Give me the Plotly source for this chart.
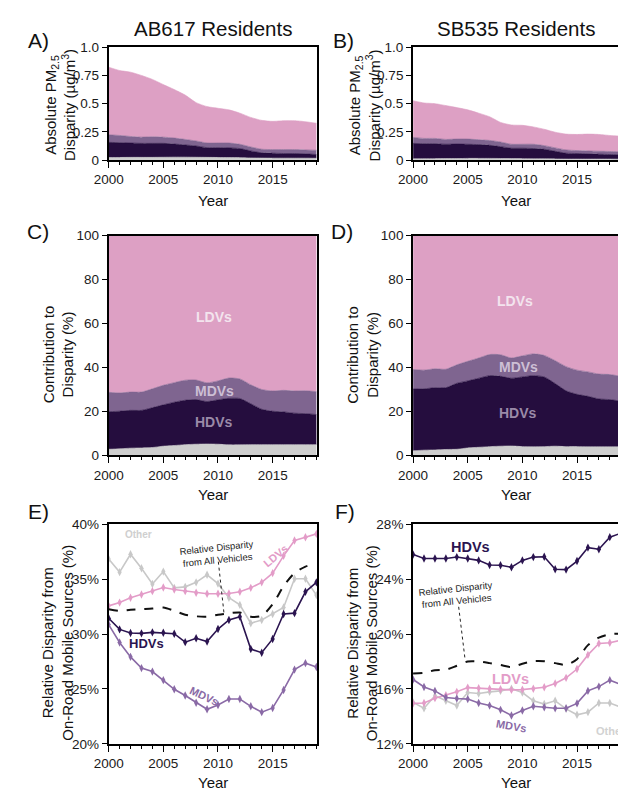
import plotly.graph_objects as go

W, H = 618, 799
FONT = "Liberation Sans, Arial, Helvetica, sans-serif"

years = list(range(2000, 2020))

# ---- Absolute PM2.5 disparity (ug/m3), AB617 residents ----
ab_other = [0.023, 0.023, 0.024, 0.024, 0.024, 0.025, 0.026, 0.026, 0.025, 0.024,
            0.023, 0.022, 0.021, 0.019, 0.018, 0.017, 0.017, 0.017, 0.017, 0.016]
ab_hdv = [0.134, 0.131, 0.127, 0.124, 0.124, 0.123, 0.116, 0.108, 0.100, 0.086,
          0.087, 0.086, 0.081, 0.062, 0.046, 0.044, 0.041, 0.041, 0.038, 0.033]
ab_mdv = [0.067, 0.064, 0.058, 0.055, 0.058, 0.055, 0.053, 0.049, 0.044, 0.041,
          0.041, 0.043, 0.038, 0.035, 0.032, 0.032, 0.035, 0.035, 0.035, 0.038]
ab_ldv = [0.599, 0.576, 0.570, 0.547, 0.509, 0.466, 0.430, 0.393, 0.340, 0.323,
          0.308, 0.294, 0.276, 0.262, 0.256, 0.250, 0.256, 0.256, 0.250, 0.239]

# ---- Absolute PM2.5 disparity (ug/m3), SB535 residents ----
sb_other = [0.011, 0.012, 0.012, 0.013, 0.013, 0.015, 0.015, 0.015, 0.014, 0.013,
            0.012, 0.011, 0.011, 0.010, 0.009, 0.009, 0.009, 0.009, 0.009, 0.008]
sb_hdv = [0.137, 0.133, 0.133, 0.127, 0.129, 0.125, 0.122, 0.116, 0.105, 0.092,
          0.093, 0.091, 0.085, 0.068, 0.052, 0.049, 0.046, 0.043, 0.040, 0.039]
sb_mdv = [0.053, 0.047, 0.047, 0.043, 0.044, 0.046, 0.043, 0.043, 0.041, 0.035,
          0.035, 0.038, 0.032, 0.030, 0.029, 0.026, 0.026, 0.026, 0.027, 0.026]
sb_ldv = [0.325, 0.314, 0.308, 0.300, 0.279, 0.259, 0.236, 0.210, 0.174, 0.171,
          0.168, 0.154, 0.145, 0.139, 0.140, 0.143, 0.149, 0.149, 0.142, 0.139]

# ---- Contribution to disparity (%), AB617 ----
abp_other = [2.8, 3.0, 3.3, 3.4, 3.6, 4.2, 4.5, 4.9, 5.1, 5.2,
             5.1, 4.8, 4.8, 4.9, 4.9, 4.9, 4.9, 4.9, 4.9, 4.9]
abp_hdv = [17.1, 17.1, 17.2, 17.1, 18.1, 18.8, 19.7, 20.2, 20.3, 19.3,
           20.2, 21.2, 21.1, 18.6, 16.1, 15.2, 14.9, 14.3, 14.1, 13.7]
abp_mdv = [8.8, 8.3, 8.3, 8.3, 8.6, 8.9, 8.9, 9.1, 8.9, 8.5,
           8.6, 9.2, 8.9, 8.6, 9.0, 9.2, 9.8, 10.1, 10.4, 10.4]
abp_ldv = [71.3, 71.6, 71.2, 71.2, 69.7, 68.1, 66.9, 65.8, 65.7, 67.0,
           66.1, 64.8, 65.2, 67.9, 70.0, 70.7, 70.4, 70.7, 70.6, 71.0]

# ---- Contribution to disparity (%), SB535 ----
sbp_other = [2.1, 2.4, 2.5, 2.7, 2.8, 3.4, 3.7, 4.0, 4.2, 4.3,
             4.0, 3.9, 4.0, 4.2, 4.0, 4.0, 3.9, 3.9, 3.9, 3.9]
sbp_hdv = [28.1, 27.9, 28.3, 28.1, 30.0, 30.5, 31.4, 32.3, 31.8, 30.8,
           31.7, 32.4, 31.7, 28.5, 25.4, 23.8, 23.0, 21.8, 21.5, 20.8]
sbp_mdv = [8.9, 8.5, 8.6, 8.4, 8.4, 8.9, 9.2, 9.6, 9.8, 9.2,
           9.6, 9.9, 9.8, 10.4, 11.0, 11.0, 11.1, 11.3, 11.4, 11.3]
sbp_ldv = [60.9, 61.2, 60.6, 60.8, 58.8, 57.2, 55.7, 54.1, 54.2, 55.7,
           54.7, 53.8, 54.5, 56.9, 59.6, 61.2, 62.0, 63.0, 63.2, 64.0]

# ---- Relative disparity from on-road mobile sources (%), AB617 ----
abr_ldv = [32.56, 32.86, 33.30, 33.60, 33.90, 34.23, 34.05, 33.90, 33.75, 33.66,
           33.66, 33.69, 33.84, 34.20, 34.70, 35.54, 37.11, 38.51, 38.81, 39.11]
abr_hdv = [31.43, 30.42, 30.09, 30.06, 30.15, 30.12, 30.03, 29.26, 29.61, 29.32,
           30.45, 31.28, 31.58, 28.63, 28.30, 29.55, 31.82, 31.90, 33.84, 34.70]
abr_mdv = [30.86, 29.23, 27.92, 26.90, 26.58, 25.80, 24.97, 24.40, 23.75, 23.15,
           23.54, 24.08, 24.08, 23.42, 22.89, 23.27, 24.91, 26.76, 27.35, 27.00]
abr_other = [36.82, 35.63, 37.26, 35.98, 34.55, 35.68, 34.20, 34.29, 34.70, 35.39,
             34.58, 33.30, 32.65, 30.98, 31.28, 31.82, 32.41, 35.03, 35.03, 33.54]
abr_all = [32.26, 32.11, 32.20, 32.26, 32.32, 32.41, 32.11, 31.76, 31.61, 31.58,
           31.76, 31.88, 31.96, 31.58, 31.67, 32.71, 34.35, 35.54, 36.13, 36.43]

# ---- Relative disparity from on-road mobile sources (%), SB535 ----
sbr_hdv = [25.79, 25.50, 25.50, 25.50, 25.60, 25.50, 25.36, 25.02, 25.00, 24.86,
           25.36, 25.60, 25.62, 24.71, 24.69, 25.31, 26.29, 26.17, 27.05, 27.33]
sbr_all = [17.12, 17.17, 17.36, 17.40, 17.69, 18.00, 18.00, 17.88, 17.74, 17.60,
           17.83, 18.02, 18.02, 17.88, 17.76, 18.17, 19.19, 19.74, 19.98, 20.02]
sbr_ldv = [14.95, 14.98, 15.33, 15.55, 15.79, 16.10, 16.05, 16.02, 15.98, 15.93,
           15.95, 16.02, 16.12, 16.40, 16.81, 17.45, 18.48, 19.31, 19.36, 19.55]
sbr_mdv = [16.69, 16.14, 15.86, 15.38, 15.31, 15.26, 14.98, 14.79, 14.48, 14.07,
           14.43, 14.74, 14.67, 14.60, 14.60, 14.95, 15.86, 16.17, 16.64, 16.33]
sbr_other = [15.02, 14.60, 15.50, 15.14, 14.79, 15.74, 15.67, 15.79, 15.86, 16.02,
             15.74, 15.14, 14.90, 15.14, 14.55, 14.12, 14.31, 14.98, 14.98, 14.67]

# tick labels
abs_ticks = [0, 0.25, 0.5, 0.75, 1.0]
abs_ticktext = ["0", "0.25", "0.5", "0.75", "1.0"]
pct_ticks = [0, 20, 40, 60, 80, 100]
rel_ab_ticks = [20, 25, 30, 35, 40]
rel_ab_ticktext = ["20%", "25%", "30%", "35%", "40%"]
rel_sb_ticks = [12, 16, 20, 24, 28]
rel_sb_ticktext = ["12%", "16%", "20%", "24%", "28%"]

# colours
C_LDV = "#dda0c4"
C_MDV = "#7f6590"
C_HDV = "#250d3e"
C_OTH = "#cecece"
L_LDV = "#e39cc8"
L_HDV = "#2b1450"
L_MDV = "#8a6aa6"
L_OTH = "#c8c8c8"


def px(x):
    return x / W


def py(y):
    return 1 - y / H


fig = go.Figure()


def add_stack(xa, ya, series):
    for vals, col in series:
        fig.add_trace(go.Scatter(
            x=years, y=vals, xaxis=xa, yaxis=ya, stackgroup=xa + "s",
            mode="lines", line=dict(width=0.6, color=col, shape="spline", smoothing=0.6),
            fillcolor=col, hoverinfo="skip", showlegend=False))


add_stack("x", "y", [(ab_other, C_OTH), (ab_hdv, C_HDV), (ab_mdv, C_MDV), (ab_ldv, C_LDV)])
add_stack("x2", "y2", [(sb_other, C_OTH), (sb_hdv, C_HDV), (sb_mdv, C_MDV), (sb_ldv, C_LDV)])
add_stack("x3", "y3", [(abp_other, C_OTH), (abp_hdv, C_HDV), (abp_mdv, C_MDV), (abp_ldv, C_LDV)])
add_stack("x4", "y4", [(sbp_other, C_OTH), (sbp_hdv, C_HDV), (sbp_mdv, C_MDV), (sbp_ldv, C_LDV)])


def add_lines(xa, ya, other, allv, ldv, hdv, mdv):
    for vals, col in [(other, L_OTH), (ldv, L_LDV), (hdv, L_HDV), (mdv, L_MDV)]:
        fig.add_trace(go.Scatter(
            x=years, y=vals, xaxis=xa, yaxis=ya, mode="lines+markers",
            line=dict(width=1.6, color=col),
            marker=dict(symbol="diamond-tall", size=6, color=col),
            hoverinfo="skip", showlegend=False))
    fig.add_trace(go.Scatter(
        x=years, y=allv, xaxis=xa, yaxis=ya, mode="lines",
        line=dict(width=2, color="#111111", dash="dash", shape="spline", smoothing=0.8),
        hoverinfo="skip", showlegend=False))


add_lines("x5", "y5", abr_other, abr_all, abr_ldv, abr_hdv, abr_mdv)
add_lines("x6", "y6", sbr_other, sbr_all, sbr_ldv, sbr_hdv, sbr_mdv)

# ---- axes ----
LEFT = (96, 310)
RIGHT = (408, 618)
ROWS = [(41, 156), (233, 457), (527, 751)]
tickfont = dict(family=FONT, size=13.5, color="#1a1a1a")


def xaxis_cfg(cols, row, anchor, rng):
    return dict(domain=[px(cols[0]), px(cols[1])], anchor=anchor, range=rng,
                showline=True, linewidth=2, linecolor="black", mirror=True,
                ticks="outside", ticklen=6, tickwidth=1, tickcolor="black",
                tick0=2000, dtick=5, tickfont=tickfont, showgrid=False, zeroline=False,
                minor=dict(ticks="outside", ticklen=3, tickwidth=1, dtick=1,
                           tickcolor="black", showgrid=False))


def yaxis_cfg(row, anchor, rng, tv, tt, mirror):
    return dict(domain=[py(ROWS[row][1]), py(ROWS[row][0])], anchor=anchor, range=rng,
                showline=True, linewidth=2, linecolor="black", mirror=mirror,
                ticks="outside", ticklen=5, tickwidth=1, tickcolor="black",
                tickvals=tv, ticktext=tt, tickfont=tickfont,
                showgrid=False, zeroline=False)


RL = [2000, 2019.1]
RR = [2000, 2018.75]
layout_axes = dict(
    xaxis=xaxis_cfg(LEFT, 0, "y", RL),
    yaxis=yaxis_cfg(0, "x", [0, 1], abs_ticks, abs_ticktext, True),
    xaxis2=xaxis_cfg(RIGHT, 0, "y2", RR),
    yaxis2=yaxis_cfg(0, "x2", [0, 1], abs_ticks, abs_ticktext, False),
    xaxis3=xaxis_cfg(LEFT, 1, "y3", RL),
    yaxis3=yaxis_cfg(1, "x3", [0, 100], pct_ticks, [str(v) for v in pct_ticks], True),
    xaxis4=xaxis_cfg(RIGHT, 1, "y4", RR),
    yaxis4=yaxis_cfg(1, "x4", [0, 100], pct_ticks, [str(v) for v in pct_ticks], False),
    xaxis5=xaxis_cfg(LEFT, 2, "y5", RL),
    yaxis5=yaxis_cfg(2, "x5", [20, 40], rel_ab_ticks, rel_ab_ticktext, True),
    xaxis6=xaxis_cfg(RIGHT, 2, "y6", RR),
    yaxis6=yaxis_cfg(2, "x6", [12, 28], rel_sb_ticks, rel_sb_ticktext, False),
)

ann = []


def text(x, y, s, size=15, color="#111111", bold=False, angle=0, xanchor="center"):
    if bold:
        s = "<b>" + s + "</b>"
    ann.append(dict(text=s, showarrow=False, textangle=angle, xanchor=xanchor,
                    yanchor="middle", x=px(x), y=py(y), xref="paper", yref="paper",
                    font=dict(family=FONT, size=size, color=color)))


# column titles and panel letters
text(203, 22, "AB617 Residents", size=20.5)
text(513, 22, "SB535 Residents", size=20.5)
for lbl, x, y in [("A)", 11, 34), ("B)", 324, 34), ("C)", 10, 229), ("D)", 322, 229),
                  ("E)", 11, 514), ("F)", 326, 514)]:
    text(x, y, lbl, size=21, xanchor="left")

# axis titles
for x0 in (96, 408):
    text(x0 - 50, 100, "Absolute PM<sub>2.5</sub><br>Disparity (µg/m<sup>3</sup>)", size=15, angle=-90)
    text(x0 - 52, 354, "Contribution to<br>Disparity (%)", size=15, angle=-90)
    text(x0 - 52, 648, "Relative Disparity from<br>On-Road Mobile Sources (%)", size=15, angle=-90)
for xc in (203, 513):
    text(xc, 197, "Year", size=15)
    text(xc, 497, "Year", size=15)
    text(xc, 790, "Year", size=15)

# stacked-area category labels
text(204, 316, "LDVs", size=14, color="#f3e4ee", bold=True)
text(204, 391, "MDVs", size=14, color="#cdbfd5", bold=True)
text(204, 423, "HDVs", size=14, color="#9a8aa8", bold=True)
text(512, 300, "LDVs", size=14, color="#f3e4ee", bold=True)
text(516, 367, "MDVs", size=14, color="#cdbfd5", bold=True)
text(516, 414, "HDVs", size=14, color="#9a8aa8", bold=True)

# line-panel labels (E)
text(127, 538, "Other", size=10, color="#cfcfcf", bold=True)
text(267, 560, "LDVs", size=11, color=L_LDV, bold=True, angle=-40)
text(135, 649, "HDVs", size=13, color=L_HDV, bold=True)
text(194, 702, "MDVs", size=11, color=L_MDV, bold=True, angle=25)
text(207, 557, "Relative Disparity<br>from All Vehicles", size=9.5, color="#222222", angle=-6)

# line-panel labels (F)
text(467, 550, "HDVs", size=14.5, color=L_HDV, bold=True)
text(508, 685, "LDVs", size=14.5, color=L_LDV, bold=True)
text(509, 733, "MDVs", size=11, color=L_MDV, bold=True, angle=10)
text(593, 738, "Other", size=11, color="#d2d2d2", bold=True, xanchor="left")
text(452, 599, "Relative Disparity<br>from All Vehicles", size=9.5, color="#222222", angle=-6)

# dotted leaders from the "All Vehicles" notes to the dashed curves
shapes = [
    dict(type="line", xref="x5", yref="y5", x0=2010.03, y0=36.58, x1=2010.54, y1=31.96,
         line=dict(color="#222222", width=1, dash="dot")),
    dict(type="line", xref="x6", yref="y6", x0=2004.17, y0=21.98, x1=2004.76, y1=18.12,
         line=dict(color="#222222", width=1, dash="dot")),
]

fig.update_layout(
    width=W, height=H, margin=dict(l=0, r=0, t=0, b=0),
    paper_bgcolor="white", plot_bgcolor="white", showlegend=False,
    annotations=ann, shapes=shapes, **layout_axes)

fig.write_html("out.html")
